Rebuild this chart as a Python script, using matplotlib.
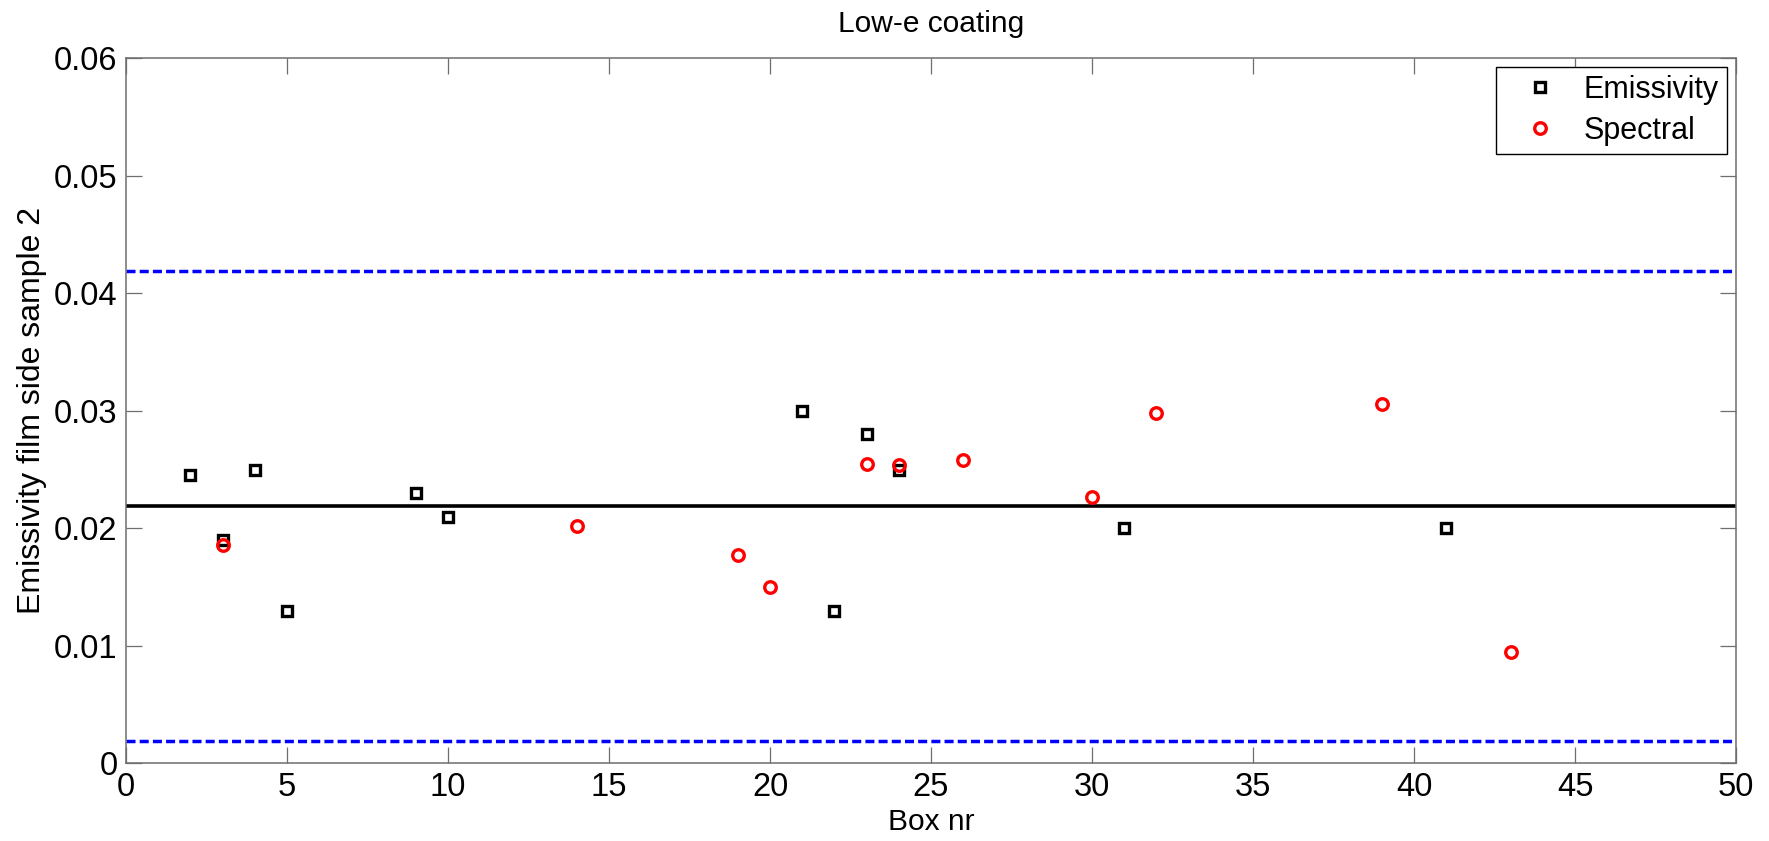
import numpy as np
import matplotlib
matplotlib.use('Agg')
import matplotlib.pyplot as plt

plt.rcParams['font.family'] = ['Liberation Sans', 'DejaVu Sans']

# emissivity measurements per box
box_emis = [2, 3, 4, 5, 9, 10, 21, 22, 23, 24, 31, 41]
emis = [0.0245, 0.019, 0.025, 0.013, 0.023, 0.021, 0.030, 0.013, 0.028, 0.025, 0.020, 0.020]

# spectral measurements per box
box_spec = [3, 14, 19, 20, 23, 24, 26, 30, 32, 39, 43]
spec = [0.0186, 0.0202, 0.0177, 0.0150, 0.0255, 0.0254, 0.0258, 0.0227, 0.0298, 0.0306, 0.0095]

# mean and limits
mean_val = 0.0219
lower_lim = 0.0019
upper_lim = 0.0419

xticks = np.arange(0, 51, 5)
yticks = [0, 0.01, 0.02, 0.03, 0.04, 0.05, 0.06]
ytick_labels = ['0', '0.01', '0.02', '0.03', '0.04', '0.05', '0.06']

fig = plt.figure(figsize=(17.69, 8.41), dpi=100)
ax = fig.add_axes([0.0712, 0.0922, 0.9102, 0.8388])

ax.axhline(mean_val, color='black', lw=2.6, zorder=2)
ax.axhline(upper_lim, color=(0, 0, 1), lw=2.5, linestyle=(0, (2.6, 1.2)), zorder=2)
ax.axhline(lower_lim, color=(0, 0, 1), lw=2.5, linestyle=(0, (2.6, 1.2)), zorder=2)

ax.plot(box_emis, emis, linestyle='none', marker='s', ms=7, mew=2.4,
        mfc='none', mec='black', label='Emissivity', zorder=3)
ax.plot(box_spec, spec, linestyle='none', marker='o', ms=8.3, mew=2.4,
        mfc='none', mec=(1, 0, 0), label='Spectral', zorder=4)

ax.set_xlim(0, 50)
ax.set_ylim(0, 0.06)
ax.set_xticks(xticks)
ax.set_yticks(yticks)
ax.set_yticklabels(ytick_labels)

gray = '#6e6e6e'
for s in ax.spines.values():
    s.set_color(gray)
    s.set_linewidth(1.1)
ax.tick_params(direction='in', top=True, right=True, length=11.5, width=0.9,
               color=gray, labelcolor='black', labelsize=23.5, pad=6)

ax.set_title('Low-e coating', fontsize=21.5, pad=19)
ax.set_xlabel('Box nr', fontsize=21.5, labelpad=4)
ax.set_ylabel('Emissivity film side sample 2', fontsize=23, labelpad=5)

leg = ax.legend(loc='upper right', fontsize=22, fancybox=False, framealpha=1,
                edgecolor='black', borderaxespad=0.3, borderpad=0.26,
                handlelength=2.3, handletextpad=0.3, labelspacing=0.36)
leg.get_frame().set_linewidth(1.0)

fig.savefig('out.png', dpi=100)
